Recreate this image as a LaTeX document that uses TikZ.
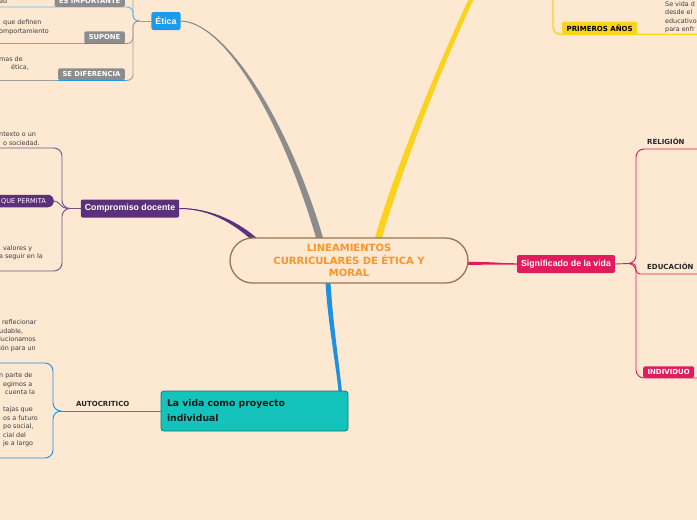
\documentclass[tikz,border=0pt]{standalone}
\usepackage{fontspec}
\setmainfont{DejaVu Sans}
\newfontfamily\topicfont{Liberation Sans}
\usepackage{tikz}
\usetikzlibrary{arrows.meta,positioning,calc,backgrounds}

\definecolor{pagebg}{RGB}{253,232,210}
\definecolor{rootline}{RGB}{152,116,80}
\definecolor{rootorange}{RGB}{247,150,45}
\definecolor{eticablue}{RGB}{30,155,232}
\definecolor{eticagray}{RGB}{140,140,140}
\definecolor{labelgray}{RGB}{141,141,141}
\definecolor{cdpurple}{RGB}{92,48,122}
\definecolor{sgpink}{RGB}{224,27,94}
\definecolor{vidablue}{RGB}{30,144,226}
\definecolor{vidateal}{RGB}{20,196,188}
\definecolor{vidaedge}{RGB}{14,120,112}
\definecolor{yel}{RGB}{251,210,28}
\definecolor{txtgray}{RGB}{60,60,60}

\begin{document}
\begin{tikzpicture}[x=1pt,y=-1pt,
    root/.style={draw=rootline, line width=1.3pt, fill=pagebg, rounded corners=22.5pt,
      minimum width=238pt, minimum height=45pt, inner sep=0pt, align=center,
      text=rootorange, font=\bfseries\fontsize{10}{12.5}\selectfont},
    topic/.style={rounded corners=2pt, text=white, inner xsep=4pt, inner ysep=0pt,
      minimum height=18pt, font=\topicfont\bfseries\fontsize{8.8}{10}\selectfont},
    vidabox/.style={fill=vidateal, draw=vidaedge, line width=0.8pt, rounded corners=3pt,
      minimum width=187pt, minimum height=40pt, text width=175pt, inner xsep=6pt,
      align=left, text=black!90, font=\bfseries\fontsize{9.3}{15}\selectfont},
    graylbl/.style={fill=labelgray, text=white, rounded corners=1.5pt, inner xsep=4.5pt,
      inner ysep=0pt, minimum height=12pt, font=\bfseries\fontsize{6.8}{8}\selectfont},
    permbox/.style={fill=cdpurple, text=white, rounded corners=6pt, inner xsep=8pt,
      inner ysep=0pt, minimum height=12.5pt, font=\fontsize{6.6}{8}\selectfont},
    plainlbl/.style={inner xsep=6pt, inner ysep=3.8pt, text=black!85,
      font=\bfseries\fontsize{7}{8}\selectfont},
    pinkbox/.style={fill=sgpink, text=white, rounded corners=1.5pt, inner xsep=4.3pt,
      inner ysep=0pt, minimum height=11.5pt, font=\bfseries\fontsize{7}{8}\selectfont},
    yelbox/.style={fill=yel, text=black, rounded corners=1pt, inner xsep=4.5pt,
      inner ysep=0pt, minimum height=12pt, font=\bfseries\fontsize{7}{8}\selectfont},
    smalltxt/.style={inner sep=0pt, align=left, text=txtgray, font=\fontsize{6.4}{8.5}\selectfont},
    etline/.style={draw=eticagray!85, line width=0.9pt, rounded corners=6pt},
    cdline/.style={draw=cdpurple!85, line width=0.9pt, rounded corners=8pt},
    sgline/.style={draw=sgpink, line width=0.9pt, rounded corners=8pt},
    vline/.style={draw=vidablue, line width=0.9pt, rounded corners=8pt},
    yline/.style={draw=yel, line width=1.4pt, rounded corners=8pt}]

    \useasboundingbox (0,0) rectangle (697,520);

    \node[root] (root) at (349,260.5) {LINEAMIENTOS\\CURRICULARES DE ÉTICA Y\\MORAL};
    \node[topic, fill=eticablue] (etica) at (166,21) {Ética};
    \node[topic, fill=cdpurple] (comp) at (130,208.5) {Compromiso docente};
    \node[topic, fill=sgpink] (signif) at (566,264) {Significado de la vida};
    \node[vidabox] (vida) at (254.5,411) {La vida como proyecto\\individual};

    \node[graylbl, anchor=south east] (esimp) at (125,7) {ES IMPORTANTE};
    \node[graylbl, anchor=south east] (supone) at (125,43.5) {SUPONE};
    \node[graylbl, anchor=south east] (sedif) at (125,80.5) {SE DIFERENCIA};
    \node[permbox, anchor=east] (permita) at (54,201) {QUE PERMITA};
    \node[plainlbl, anchor=south west] (relig) at (641,149) {RELIGIÓN};
    \node[plainlbl, anchor=south west] (educ) at (641,274) {EDUCACIÓN};
    \node[pinkbox, anchor=south west] (indiv) at (643,378) {INDIVIDUO};
    \node[plainlbl, anchor=south west] (autoc) at (70,411) {AUTOCRITICO};
    \node[yelbox, anchor=south west] (primeros) at (562,34) {PRIMEROS AÑOS};

    % text blocks sit on the baseline of their last line
    \node[smalltxt, anchor=base west] (t-ad) at (-1,3.5) {ad};
    \node[smalltxt, anchor=base west] (t-definen) at (-1,33) {\hspace{4pt}que definen\\omportamiento};
    \node[smalltxt, anchor=base west] (t-normas) at (-1,69.5) {mas de\\\hspace{12pt}ética,};
    \node[smalltxt, anchor=base west] (t-contexto) at (-1,145) {ntexto o un\\\hspace{4pt}o sociedad.};
    \node[smalltxt, anchor=base west] (t-valores) at (-1,258.5) {\hspace{4pt}valores y\\a seguir en la};
    \node[smalltxt, anchor=base west] (t-reflex) at (-1,350) {\hspace{3pt}reflecionar\\udable,\\lucionamos\\ión para un};
    \node[smalltxt, anchor=base west] (t-parte) at (3,445.5) {\hspace{-4pt}n parte de\\egimos a\\\hspace{2pt}cuenta la\\[8.5pt]tajas que\\os a futuro\\po social,\\cial del\\je a largo};
    \node[smalltxt, anchor=base west] (t-vida) at (665,31.5) {Se vida d\\desde el\\educativo\\para enfr};

    \coordinate (yeltop) at (490,-40);
    \coordinate (etj) at (138,21);
    \coordinate (esimp-l) at (0,7);
    \coordinate (supone-l) at (0,43.5);
    \coordinate (sedif-l) at (0,80.5);
    \coordinate (cdj) at (67,208.5);
    \coordinate (cdtop) at (0,148);
    \coordinate (cdbot) at (0,271);
    \coordinate (sgj) at (628,263.5);
    \coordinate (relig-r) at (697,149);
    \coordinate (educ-r) at (697,274);
    \coordinate (indiv-r) at (697,378);
    \coordinate (vj) at (60,411);
    \coordinate (vtop) at (0,363);
    \coordinate (vbot) at (0,458);
    \coordinate (yelj) at (553,-20);
    \coordinate (prim-r) at (697,34.5);

    \begin{scope}[on background layer]
    \fill[pagebg] (0,0) rectangle (697,520);

    \fill[eticagray] ($(root.north)+(-32.5,2)$) .. controls (282,121) and (225,22.6) .. (etica.east)
      .. controls (225,21.4) and (288,119) .. ($(root.north)+(-25.5,2)$) -- cycle;
    \draw[eticagray, line width=1pt] ($(root.north)+(-29,2)$) .. controls (285,120) and (225,22) .. (etica.east);
    \fill[yel] ($(root.north)+(25.5,2)$) .. controls (391.5,180) and (438,59) .. ($(yeltop)+(-2,-1)$)
      -- ($(yeltop)+(2,1)$) .. controls (442,61) and (398.5,180) .. ($(root.north)+(32.5,2)$) -- cycle;
    \fill[cdpurple] (comp.east) .. controls (212,207.8) and (239.5,222.5) .. ($(root.north)+(-89.5,3)$)
      -- ($(root.north)+(-92.5,7)$) .. controls (236.5,225.5) and (212,209.2) .. (comp.east) -- cycle;
    \draw[cdpurple, line width=1pt] (comp.east) .. controls (212,208.5) and (238,224) .. ($(root.north)+(-91,5)$);
    \fill[vidablue] ($(root.south)+(-23.5,-2)$) .. controls (327.5,320) and (335.3,360) .. ($(vida.north east)+(-9.7,2)$)
      -- ($(vida.north east)+(-6.3,2)$) .. controls (338.7,360) and (332.5,320) .. ($(root.south)+(-18.5,-2)$) -- cycle;
    \fill[sgpink] ($(root.east)+(-3,1.5)$) .. controls (490,261.5) and (500,263.3) .. ($(signif.west)+(2,-0.7)$)
      -- ($(signif.west)+(2,0.7)$) .. controls (500,264.7) and (490,264.5) .. ($(root.east)+(-3,4.5)$) -- cycle;

    \draw[etline] (etica.west) -- (etj);
    \draw[etline] (etj) -- ++(-5,0) -- ++(0,-40);
    \draw[etline, draw=eticablue!70] (etj) -- ++(-5,0) |- (esimp-l);
    \draw[etline] (etj) -- ++(-5,0) |- (supone-l);
    \draw[etline] (etj) -- ++(-5,0) |- (sedif-l);

    \draw[cdline] (comp.west) -- (cdj);
    \draw[cdline] (cdj) -- ++(-5,0) |- (cdtop);
    \draw[cdline] (cdj) -- ++(-5,0) |- (cdbot);
    \draw[cdline] (cdj) .. controls (61,208.5) and (60,201) .. (permita.east);

    \draw[sgline] (signif.east) -- (sgj);
    \draw[sgline] (sgj) -- ++(8,0) |- (relig-r);
    \draw[sgline, rounded corners=4pt] (sgj) -- ++(8,0) |- (educ-r);
    \draw[sgline] (sgj) -- ++(8,0) |- (indiv-r);

    \draw[vline] (vida.west) -- (vj);
    \draw[vline] (vj) -- ++(-7,0) |- (vtop);
    \draw[vline] (vj) -- ++(-7,0) |- (vbot);

    \draw[yline] (yelj) |- (prim-r);
    \end{scope}

    \draw[eticablue, line width=0.9pt] (supone.south west) -- (supone.south east);
    \draw[eticablue, line width=0.9pt] (sedif.south west) -- (sedif.south east);
\end{tikzpicture}
\end{document}
